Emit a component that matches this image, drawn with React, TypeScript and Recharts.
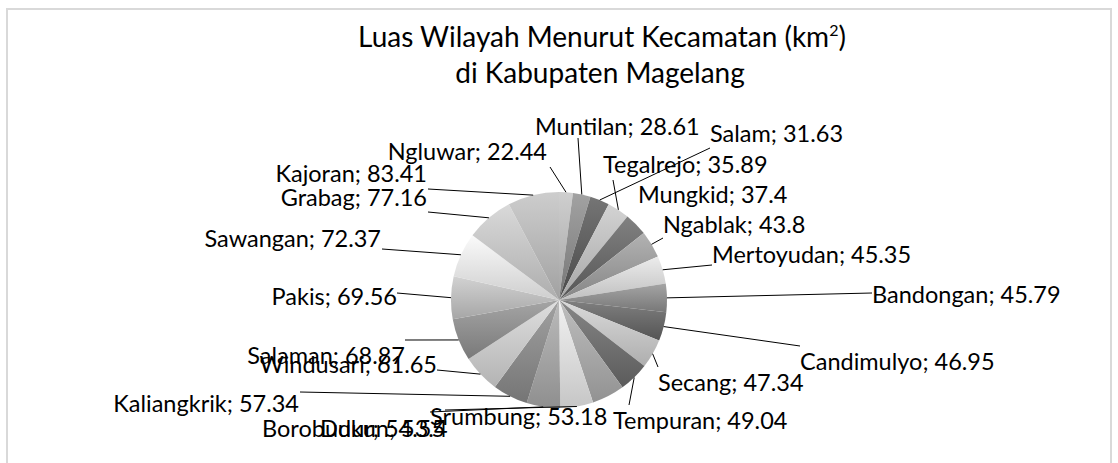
import { PieChart, Pie, Cell } from "recharts"

// Luas wilayah per kecamatan (km2), urut dari terkecil
const kecamatan = [
  "Ngluwar", "Muntilan", "Salam", "Tegalrejo", "Mungkid", "Ngablak", "Mertoyudan",
  "Bandongan", "Candimulyo", "Secang", "Tempuran", "Srumbung", "Dukun", "Borobudur",
  "Kaliangkrik", "Windusari", "Salaman", "Pakis", "Sawangan", "Grabag", "Kajoran",
]
const luas = [
  22.44, 28.61, 31.63, 35.89, 37.4, 43.8, 45.35,
  45.79, 46.95, 47.34, 49.04, 53.18, 53.4, 54.55,
  57.34, 61.65, 68.87, 69.56, 72.37, 77.16, 83.41,
]

const data = kecamatan.map((name, i) => ({ name, value: luas[i] }))

// grayscale fills per slice
const shades = [
  "#b9b9b9", "#8c8c8c", "#5f5f5f", "#bdbdbd", "#6b6b6b", "#9c9c9c", "#d6d6d6",
  "#8e8e8e", "#6a6a6a", "#c4c4c4", "#717171", "#a8a8a8", "#dcdcdc", "#a5a5a5",
  "#8b8b8b", "#c9c9c9", "#8f8f8f", "#bcbcbc", "#e4e4e4", "#c3c3c3", "#b7b7b7",
]

// where Excel put each data label (text x/baseline, anchor, leader end)
type Spot = { tx: number; ty: number; anchor: "start" | "end" | "middle"; lx?: number; ly?: number }
const labelSpots: Spot[] = [
  { tx: 547, ty: 160, anchor: "end", lx: 550, ly: 167 },
  { tx: 535, ty: 135, anchor: "start", lx: 578, ly: 138 },
  { tx: 710, ty: 142, anchor: "start", lx: 710, ly: 148 },
  { tx: 603, ty: 173, anchor: "start", lx: 613, ly: 180 },
  { tx: 638, ty: 203, anchor: "start" },
  { tx: 663, ty: 233, anchor: "start", lx: 663, ly: 238 },
  { tx: 712, ty: 263, anchor: "start", lx: 712, ly: 265 },
  { tx: 872, ty: 303, anchor: "start", lx: 872, ly: 293 },
  { tx: 800, ty: 370, anchor: "start", lx: 800, ly: 346 },
  { tx: 658, ty: 391, anchor: "start", lx: 658, ly: 367 },
  { tx: 613, ty: 429, anchor: "start", lx: 629, ly: 405 },
  { tx: 430, ty: 425, anchor: "start" },
  { tx: 320, ty: 437, anchor: "start", lx: 445, ly: 410 },
  { tx: 262, ty: 437, anchor: "start", lx: 430, ly: 412 },
  { tx: 299, ty: 412, anchor: "end", lx: 300, ly: 392 },
  { tx: 437, ty: 373, anchor: "end", lx: 437, ly: 370 },
  { tx: 405, ty: 364, anchor: "end", lx: 405, ly: 340 },
  { tx: 397, ty: 305, anchor: "end", lx: 397, ly: 293 },
  { tx: 381, ty: 247, anchor: "end", lx: 382, ly: 249 },
  { tx: 427, ty: 206, anchor: "end", lx: 428, ly: 212 },
  { tx: 427, ty: 182, anchor: "end", lx: 428, ly: 189 },
]

const RADIAN = Math.PI / 180
const FONT = "Lato, 'Open Sans', sans-serif"

function tone(hex: string, d: number) {
  const v = Math.max(0, Math.min(255, parseInt(hex.slice(1, 3), 16) + d))
  const h = v.toString(16).padStart(2, "0")
  return `#${h}${h}${h}`
}

function renderLabel(props: any) {
  const { cx, cy, midAngle, outerRadius, index } = props
  const spot = labelSpots[index]
  const d = data[index]
  const px = cx + outerRadius * Math.cos(-midAngle * RADIAN)
  const py = cy + outerRadius * Math.sin(-midAngle * RADIAN)
  return (
    <g key={`lbl-${index}`}>
      {spot.lx !== undefined && (
        <line x1={px} y1={py} x2={spot.lx} y2={spot.ly} stroke="#000" strokeWidth={1} />
      )}
      <text
        x={spot.tx}
        y={spot.ty}
        textAnchor={spot.anchor}
        fontFamily={FONT}
        fontSize={23.5}
        fill="#000"
      >
        {`${d.name}; ${d.value}`}
      </text>
    </g>
  )
}

export default function App() {
  return (
    <div style={{ position: "absolute", left: 0, top: 0, width: 1118, height: 463, background: "#fff", fontFamily: FONT }}>
      <div
        style={{
          position: "absolute",
          left: 6,
          top: 8,
          width: 1102,
          height: 470,
          border: "2px solid #d9d9d9",
        }}
      />
      <PieChart width={1118} height={463} style={{ position: "absolute", left: 0, top: 0 }}>
        <defs>
          {shades.map((c, i) => (
            <linearGradient key={i} id={`shade-${i}`} x1="0" y1="0" x2="0" y2="1">
              <stop offset="0%" stopColor={tone(c, 22)} />
              <stop offset="100%" stopColor={tone(c, -22)} />
            </linearGradient>
          ))}
        </defs>
        <Pie
          data={data}
          dataKey="value"
          nameKey="name"
          cx={554}
          cy={295}
          outerRadius={108}
          startAngle={90}
          endAngle={-270}
          stroke="none"
          label={renderLabel}
          labelLine={false}
          isAnimationActive={false}
        >
          {data.map((_, i) => (
            <Cell key={i} fill={`url(#shade-${i})`} />
          ))}
        </Pie>
      </PieChart>
      <svg width={1118} height={463} style={{ position: "absolute", left: 0, top: 0, pointerEvents: "none" }}>
        <text x={602} y={47} textAnchor="middle" fontFamily={FONT} fontSize={28} fill="#000">
          Luas Wilayah Menurut Kecamatan (km
          <tspan fontSize={16} dy={-11}>2</tspan>
          <tspan dy={11}>)</tspan>
        </text>
        <text x={600} y={83} textAnchor="middle" fontFamily={FONT} fontSize={28} fill="#000">
          di Kabupaten Magelang
        </text>
      </svg>
    </div>
  )
}
